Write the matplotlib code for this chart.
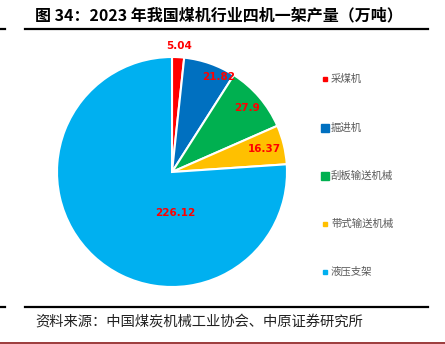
import numpy as np
import matplotlib.pyplot as plt
from matplotlib.lines import Line2D

plt.rcParams['font.family'] = ['Noto Sans CJK SC', 'DejaVu Sans']

categories = ["采煤机", "掘进机", "刮板输送机械", "带式输送机械", "液压支架"]
values = [5.04, 21.82, 27.9, 16.37, 226.12]
value_labels = ["5.04", "21.82", "27.9", "16.37", "226.12"]
colors = ["#FF0000", "#0070C0", "#00B050", "#FFC000", "#00B0F0"]
# label placement (radius as fraction of pie radius, angle; None = wedge middle)
label_radius = [1.10, 0.92, 0.86, 0.83, 0.36]
label_angle = [None, 64.0, None, None, -85.0]
legend_marker_size = [4, 7, 7, 4, 4]

W, H = 445, 344
fig = plt.figure(figsize=(W / 100, H / 100), dpi=100)

# pie axes: centre (172,172) px, radius 115 px
cx, cy, R = 172, 172, 115
ax = fig.add_axes([(cx - R) / W, (H - cy - R) / H, 2 * R / W, 2 * R / H])
wedges, _ = ax.pie(values, colors=colors, startangle=90, counterclock=False,
                   radius=1.0,
                   wedgeprops=dict(edgecolor="white", linewidth=1.5))
ax.set_xlim(-1, 1)
ax.set_ylim(-1, 1)
ax.set_aspect("equal")
ax.axis("off")

for w, txt, r, ang in zip(wedges, value_labels, label_radius, label_angle):
    theta = (w.theta1 + w.theta2) / 2 if ang is None else ang
    t = np.deg2rad(theta)
    ax.text(r * np.cos(t), r * np.sin(t), txt, ha="center", va="center",
            color="#FF0000", fontsize=7.5, fontweight="bold",
            family=["DejaVu Sans"], clip_on=False)

# legend
leg_y = [79, 128, 176, 224, 272]
for cat, col, ms, y in zip(categories, colors, legend_marker_size, leg_y):
    fig.add_artist(Line2D([325 / W], [1 - y / H], marker="s", markersize=ms * 0.75,
                          color=col, linestyle="none", transform=fig.transFigure))
    fig.text(331 / W, 1 - y / H, cat, ha="left", va="center",
             fontsize=7.5, color="#595959")

# title and rules
fig.text(35 / W, 1 - 15 / H, "图 34：2023 年我国煤机行业四机一架产量（万吨）",
         ha="left", va="center", fontsize=11.5, fontweight="bold", color="black")
for y in (29, 307):
    fig.add_artist(Line2D([25 / W, 428 / W], [1 - y / H] * 2, color="black",
                          linewidth=1.6, transform=fig.transFigure))
    fig.add_artist(Line2D([0, 5 / W], [1 - y / H] * 2, color="black",
                          linewidth=1.6, transform=fig.transFigure))
fig.add_artist(Line2D([0, 1], [1 - 342.5 / H] * 2, color="#8B1A1A",
                      linewidth=1.2, transform=fig.transFigure))

fig.text(35 / W, 1 - 322 / H, "资料来源：中国煤炭机械工业协会、中原证券研究所",
         ha="left", va="center", fontsize=10.3, color="#222222")

fig.savefig("out.png", dpi=100)
